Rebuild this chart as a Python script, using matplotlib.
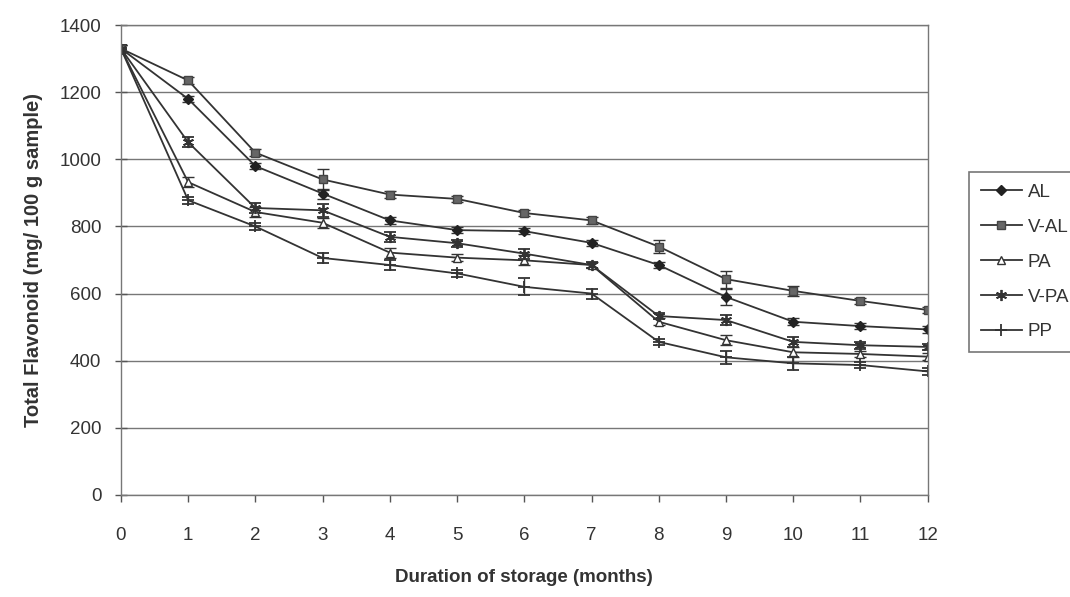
import matplotlib
matplotlib.use("Agg")
import matplotlib.pyplot as plt

plt.rcParams["font.family"] = ["Liberation Sans", "DejaVu Sans"]

# --- data ---
months = [0, 1, 2, 3, 4, 5, 6, 7, 8, 9, 10, 11, 12]
series_names = ["AL", "V-AL", "PA", "V-PA", "PP"]
al = [1330, 1180, 980, 898, 818, 789, 786, 751, 685, 590, 516, 503, 493]
v_al = [1330, 1235, 1020, 940, 895, 882, 840, 818, 740, 643, 608, 578, 551]
pa = [1330, 932, 843, 811, 722, 707, 699, 685, 516, 461, 425, 420, 412]
v_pa = [1330, 1051, 855, 848, 769, 750, 719, 685, 533, 521, 456, 446, 441]
pp = [1330, 878, 800, 706, 685, 660, 620, 600, 456, 410, 392, 387, 368]

al_err = [10, 10, 10, 15, 10, 10, 10, 10, 10, 25, 10, 10, 10]
v_al_err = [10, 10, 10, 30, 10, 10, 10, 10, 20, 25, 15, 10, 10]
pa_err = [10, 15, 15, 15, 15, 10, 15, 10, 10, 15, 15, 10, 10]
v_pa_err = [10, 15, 15, 20, 15, 10, 15, 10, 10, 15, 15, 10, 10]
pp_err = [10, 10, 10, 15, 15, 10, 25, 15, 10, 20, 20, 10, 10]

values = [al, v_al, pa, v_pa, pp]
errors = [al_err, v_al_err, pa_err, v_pa_err, pp_err]

# marker styles per series
styles = [
    dict(marker="D", ms=5, mfc="#222222", mec="#222222"),
    dict(marker="s", ms=6, mfc="#666666", mec="#444444"),
    dict(marker="^", ms=6, mfc="white", mec="#333333"),
    dict(marker=(6, 2, 0), ms=8, mfc="#333333", mec="#333333", mew=1.3),
    dict(marker="+", ms=9, mfc="#333333", mec="#333333", mew=1.3),
]

fig = plt.figure(figsize=(10.7, 5.97), dpi=100)
ax = fig.add_axes([0.113, 0.171, 0.754, 0.787])

handles = []
for name, y, e, st in zip(series_names, values, errors, styles):
    c = ax.errorbar(months, y, yerr=e, color="#333333", lw=1.3, capsize=4,
                    elinewidth=1.0, capthick=1.0, label=name, **st)
    handles.append(c.lines[0])

ax.set_xlim(0, 12)
ax.set_ylim(0, 1400)
ax.set_xticks(months)
ax.set_yticks(range(0, 1401, 200))
ax.yaxis.grid(True, color="#777777", lw=1.0)
ax.set_axisbelow(True)
for sp in ax.spines.values():
    sp.set_color("#777777")
    sp.set_linewidth(1.0)
ax.tick_params(axis="both", colors="#555555", labelcolor="#333333",
               labelsize=13.5, length=5, width=1)
ax.tick_params(axis="x", pad=18)
ax.tick_params(axis="y", direction="inout", length=8, pad=10)

ax.set_xlabel("Duration of storage (months)", fontsize=13.5, fontweight="bold",
              color="#333333", labelpad=18)
ax.set_ylabel("Total Flavonoid (mg/ 100 g sample)", fontsize=14.5,
              fontweight="bold", color="#333333", labelpad=12)

leg = ax.legend(handles, series_names, loc="upper left",
                bbox_to_anchor=(960 / 1070, (597 - 163) / 597),
                bbox_transform=fig.transFigure, fontsize=13.5, frameon=True,
                fancybox=False, edgecolor="#555555", handlelength=2.2,
                labelspacing=0.95, borderpad=0.6, handletextpad=0.3)
leg.get_frame().set_linewidth(1.2)
for t in leg.get_texts():
    t.set_color("#333333")

fig.savefig("out.png", dpi=100)
